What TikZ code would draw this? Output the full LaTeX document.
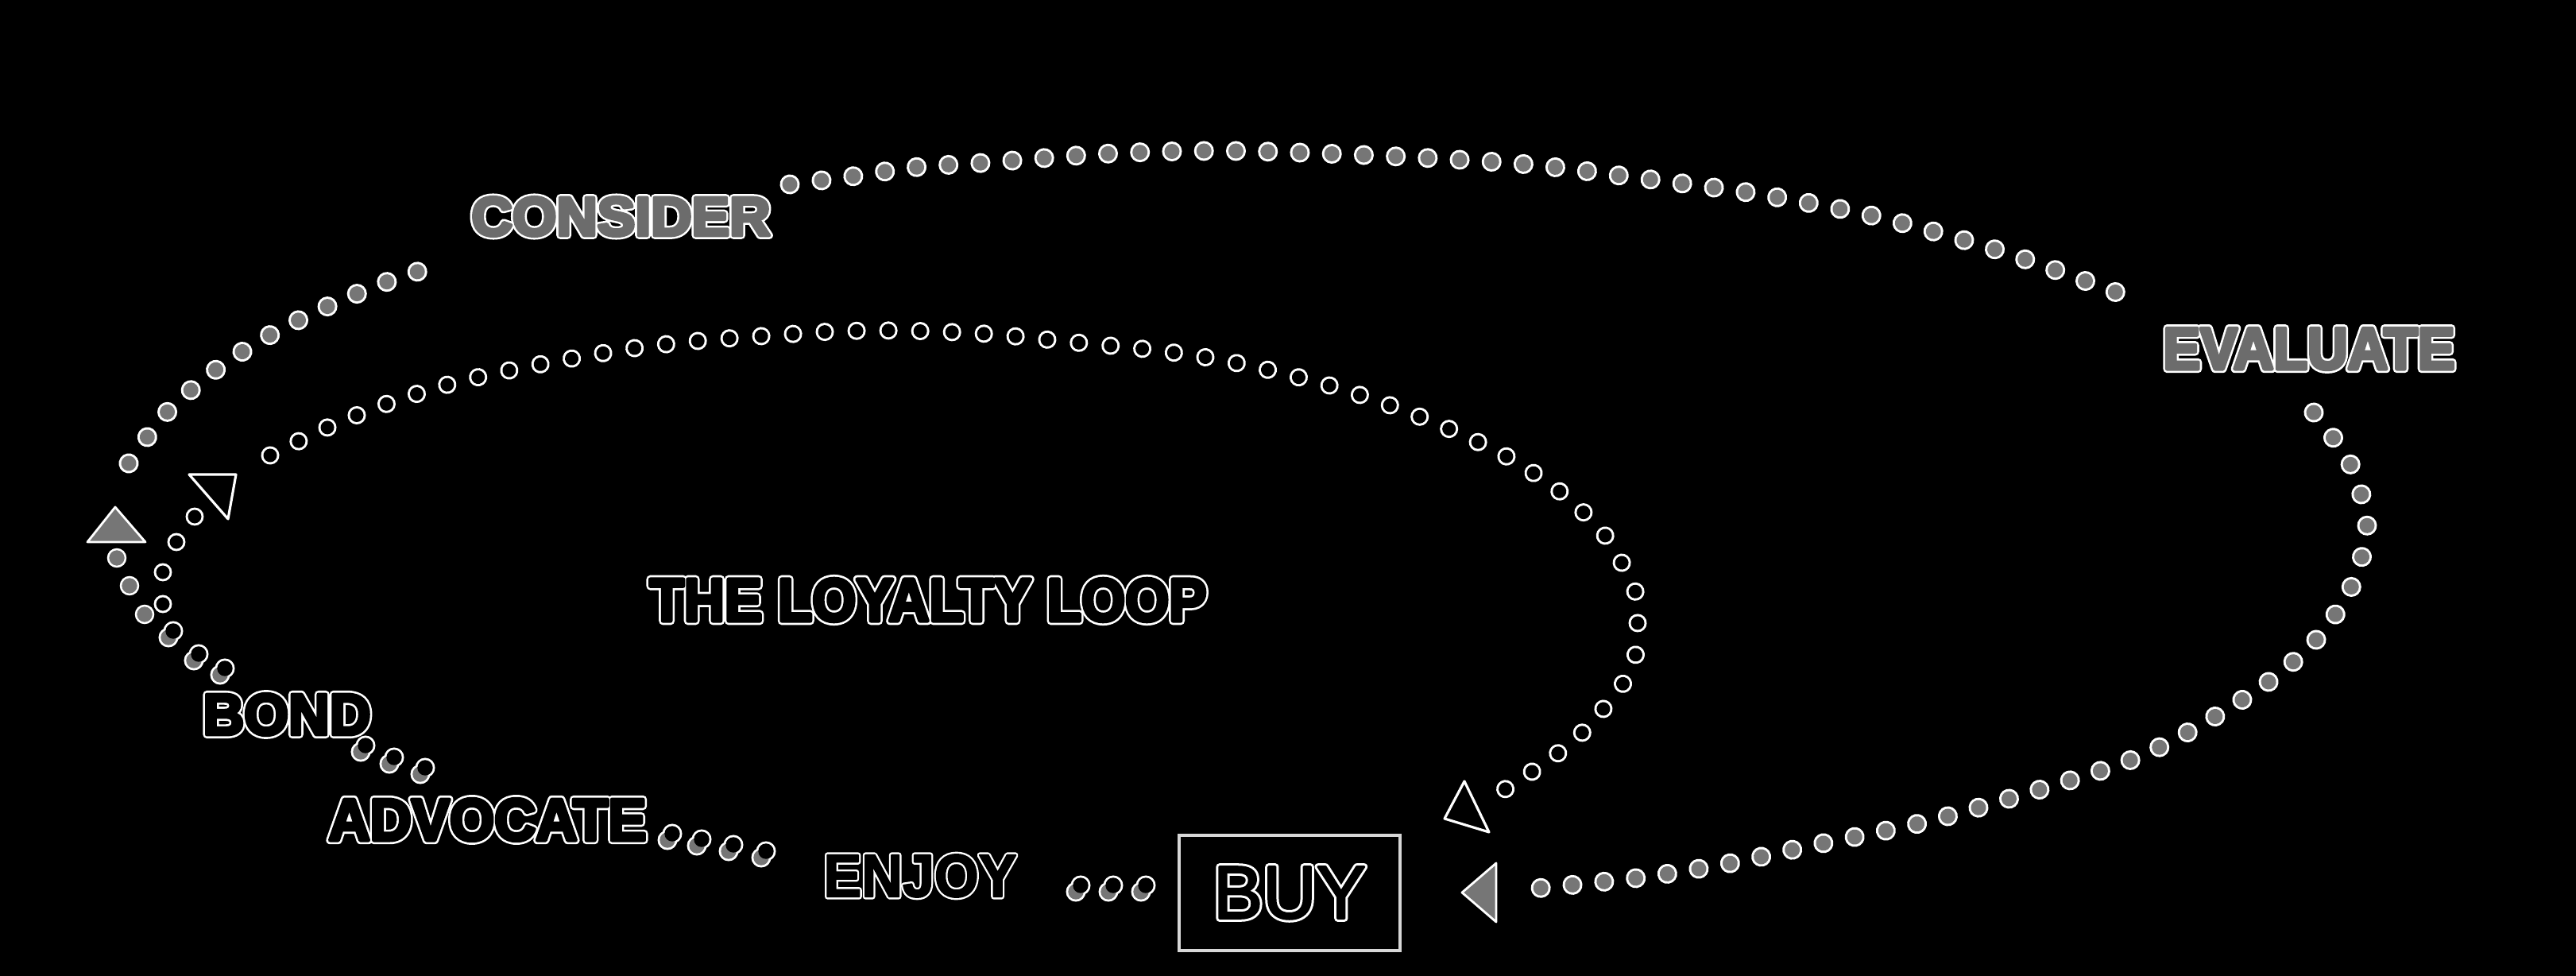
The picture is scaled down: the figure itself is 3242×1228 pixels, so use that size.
\documentclass[tikz,border=0pt]{standalone}
\usepackage{fontspec}
\setmainfont{Liberation Sans}
\definecolor{dotgray}{RGB}{118,118,118}
\definecolor{txtgray}{RGB}{108,108,108}
\definecolor{boxgray}{RGB}{215,215,215}
\newlength\pxu \setlength\pxu{0.01cm}
% outlined text: #1 width px, #2 height px, #3 fill colour, #4 inner stroke, #5 halo stroke, #6 text
\newcommand\olab[6]{\resizebox{#1\pxu}{#2\pxu}{\rlap{\color{white}\special{pdf:literal direct 2 Tr 1 j #5 w}#6\special{pdf:literal direct 0 Tr}}{\color{#3}\special{pdf:literal direct 2 Tr 1 j #4 w}#6\special{pdf:literal direct 0 Tr}}}}
\tikzset{
 gdot/.style={circle,fill=dotgray,draw=white,line width=0.7pt,minimum size=0.22cm,inner sep=0pt},
 hdot/.style={circle,fill=black,draw=white,line width=0.8pt,minimum size=0.2cm,inner sep=0pt},
 gchain/.style={preaction={draw=white,line width=0.25cm,line cap=round,dash pattern=on 0.01pt off #1},
                draw=dotgray,line width=0.19cm,line cap=round,dash pattern=on 0.01pt off #1},
 hchain/.style={preaction={draw=white,line width=0.23cm,line cap=round,dash pattern=on 0.01pt off #1},
                draw=black,line width=0.17cm,line cap=round,dash pattern=on 0.01pt off #1},
 garrow/.style={fill=dotgray,draw=white,line width=0.8pt,line join=round},
 harrow/.style={fill=black,draw=white,line width=0.9pt,line join=round},
 lbl/.style={inner sep=0pt,outer sep=0pt,text=white,font=\fontsize{22}{22}\selectfont\bfseries},
 lblthin/.style={inner sep=0pt,outer sep=0pt,text=white,font=\fontsize{22}{22}\selectfont\mdseries},
 buybox/.style={draw=boxgray,line width=1.1pt,minimum width=2.78cm,minimum height=1.45cm,inner sep=0pt},
 pairdot/.pic={
   \fill[white] (-3,4) circle (0.125cm) (3,-4) circle (0.125cm);
   \fill[dotgray] (-3,4) circle (0.097cm);
   \fill[black] (3,-4) circle (0.097cm);
 }
}
\begin{document}
\begin{tikzpicture}[x=0.01cm,y=-0.01cm]
\path[use as bounding box,fill=black] (0,0) rectangle (3242,1228);

% labels
\node[lbl] (consider) at (781.5,272.5) {\olab{376}{48}{txtgray}{1.4}{3.0}{CONSIDER}};
\node[lbl] (evaluate) at (2906,439) {\olab{367}{51}{txtgray}{1.4}{3.0}{EVALUATE}};
\node[lbl] (loyalty) at (1168,755) {\olab{701}{53}{black}{1.4}{3.0}{THE LOYALTY LOOP}};
\node[lbl] (bond) at (361,899) {\olab{211}{51}{black}{1.4}{3.0}{BOND}};
\node[lbl] (advocate) at (613.5,1031.5) {\olab{400}{52}{black}{1.4}{3.0}{ADVOCATE}};
\node[lbl] (enjoy) at (1158,1102) {\olab{243}{53}{black}{0.6}{2.0}{ENJOY}};
\node[buybox,lblthin] (buy) at (1623,1123.5) {\raisebox{-5.5\pxu}{\olab{192}{65}{black}{0.6}{2.0}{BUY}}};

% chain end points
\coordinate (o1a) at (162,583);
\coordinate (o1b) at (563,330);
\coordinate (o2a) at (994,232);
\coordinate (o2b) at (2669,370);
\coordinate (o3a) at (2912,519);
\coordinate (o3b) at (1900,1121);
\coordinate (i2a) at (340,573);
\coordinate (i2b) at (1880,1001);

% outer loop (grey dots)
\draw[gchain=0.404cm] plot[smooth,tension=0.5] coordinates {(o1a) (209,520) (272,465) (339,422) (409,387) (486,355) (o1b)};
\draw[gchain=0.402cm] plot[smooth,tension=0.5] coordinates {(o2a) (1072,222) (1156,210) (1236,205) (1400,193) (1557,190) (1761,197) (1924,207) (2047,222) (2205,243) (2363,273) (2521,317) (o2b)};
\draw[gchain=0.4cm] plot[smooth,tension=0.5] coordinates {(o3a) (2958,584) (2979,662) (2959,739) (2915,805) (2855,858) (2787,902) (2718,940) (2643,970) (2440,1030) (2275,1065) (2173,1087) (2058,1105) (o3b)};
\node[gdot] (g1) at (147,702) {};
\node[gdot] (g2) at (163,737) {};
\node[gdot] (g3) at (182,773) {};
\filldraw[garrow] (145,638) -- (110,682) -- (183,682) -- cycle;
\filldraw[garrow] (1840,1123) -- (1883,1086) -- (1883,1160) -- cycle;

% inner loop (hollow dots)
\node[hdot] (h1) at (245,650) {};
\node[hdot] (h2) at (222,682) {};
\node[hdot] (h3) at (205,720) {};
\node[hdot] (h4) at (205,760) {};
\draw[hchain=0.4cm] plot[smooth,tension=0.5] coordinates {(i2a) (414,537) (490,507) (567,483) (646,465) (726,450) (806,437) (889,428) (972,422) (1051,417) (1134,416) (1241,420) (1344,430) (1448,440) (1526,451) (1603,467) (1680,487) (1755,512) (1829,542) (1899,576) (1965,620) (2021,675) (2058,744) (2061,784) (2058,826) (2040,864) (1984,929) (1915,980) (i2b)};
\filldraw[harrow] (297,597) -- (238,597) -- (287,653) -- cycle;
\filldraw[harrow] (1818,1030) -- (1843,983) -- (1874,1047) -- cycle;

% merged dots between stages
\foreach \p in {(215,798),(247,827),(280,845),(457,942),(493,957),(532,970),(843,1053),(880,1060),(920,1067),(961,1075),(1357,1118),(1398,1118),(1439,1118)}
  \pic at \p {pairdot};
\end{tikzpicture}
\end{document}
